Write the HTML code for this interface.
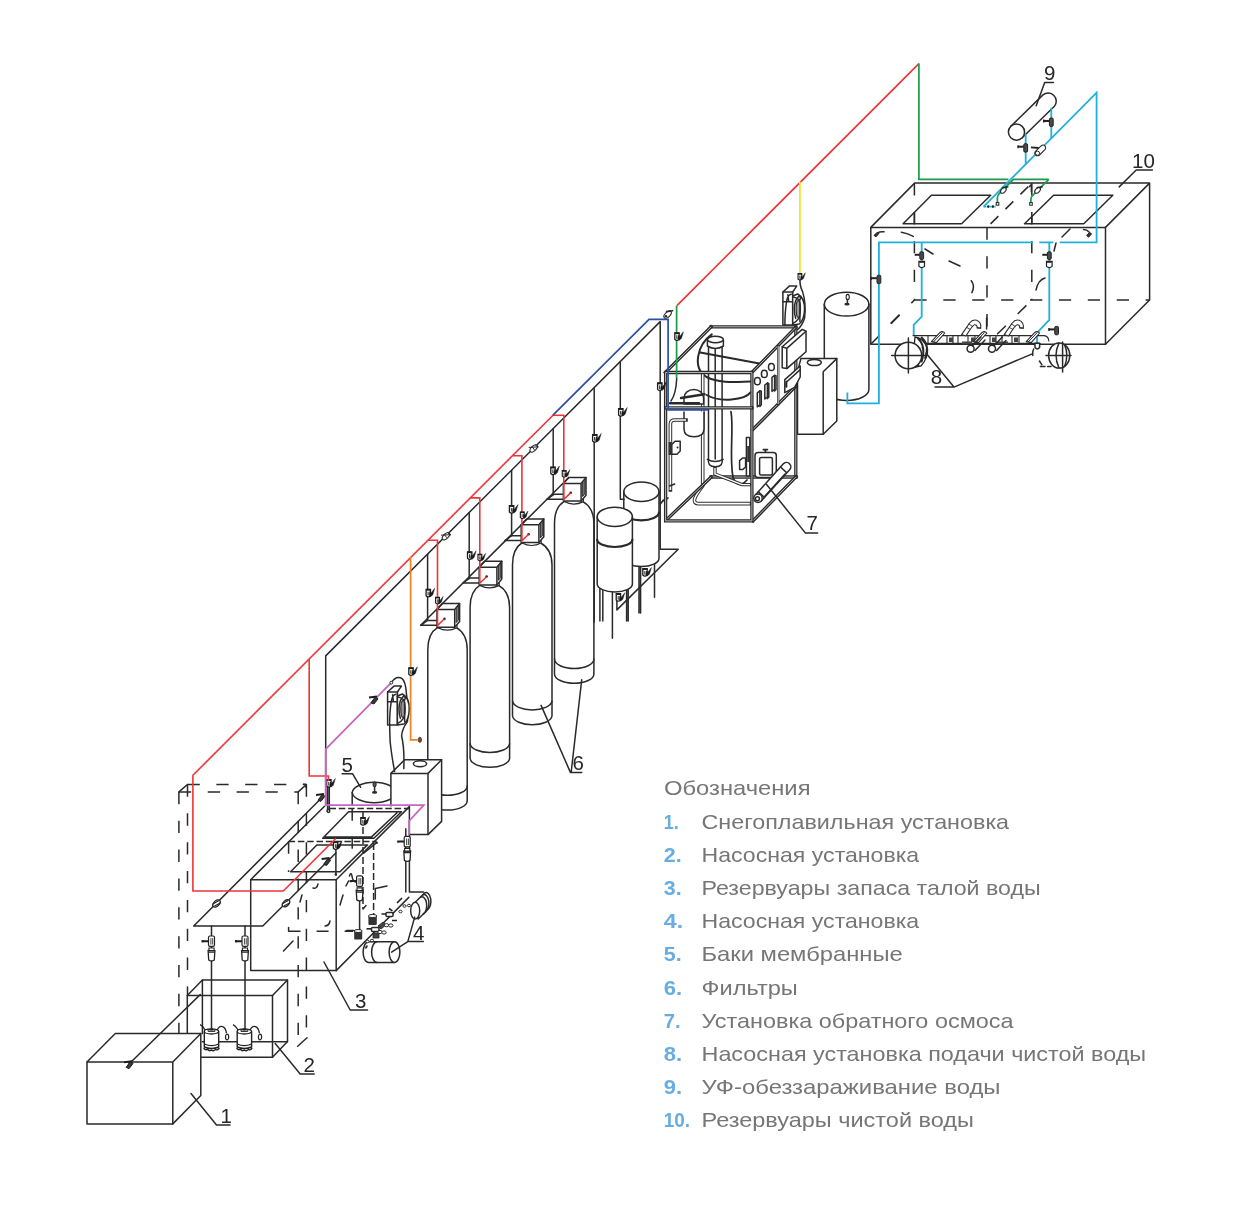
<!DOCTYPE html>
<html lang="ru">
<head>
<meta charset="utf-8">
<title>Схема водоподготовки</title>
<style>
html,body{margin:0;padding:0;background:#fff;}
body{width:1240px;height:1218px;overflow:hidden;font-family:"Liberation Sans",sans-serif;}
svg{display:block;position:absolute;left:0;top:0;will-change:transform;}
.k{fill:none;stroke:#2a2a2a;stroke-width:1.5;stroke-linecap:round;stroke-linejoin:round;}
.kf{fill:#fff;stroke:#2a2a2a;stroke-width:1.5;stroke-linejoin:round;}
.kd{fill:none;stroke:#2a2a2a;stroke-width:1.5;stroke-dasharray:9 5;}
.kb{fill:#2a2a2a;stroke:none;}
.r{fill:none;stroke:#ee3438;stroke-width:1.6;stroke-linejoin:miter;}
.b{fill:none;stroke:#2b4fa3;stroke-width:1.7;}
.g{fill:none;stroke:#1c9a48;stroke-width:1.7;}
.c{fill:none;stroke:#1fb0dc;stroke-width:1.8;}
.y{fill:none;stroke:#f1e722;stroke-width:1.8;}
.o{fill:none;stroke:#f08224;stroke-width:1.7;}
.m{fill:none;stroke:#c765c2;stroke-width:1.8;}
.lb{font-family:"Liberation Sans",sans-serif;font-size:20.5px;fill:#262626;}
.lg{font-family:"Liberation Sans",sans-serif;font-size:20.4px;fill:#767676;}
.ln{font-family:"Liberation Sans",sans-serif;font-size:20.4px;font-weight:bold;fill:#68ade0;}
</style>
</head>
<body>
<svg width="1240" height="1218" viewBox="0 0 1240 1218">
<!-- 10_defs.svg -->
<defs>
  <!-- small valve on a vertical pipe -->
  <g id="vv">
    <path d="M-2.2,-3.8 H2.2 V2.6 Q0,4.8 -2.2,2.6 Z" fill="#fff" stroke="#1e1e1e" stroke-width="1.3"/>
    <path d="M-2.2,-3.3 H2.2" stroke="#1e1e1e" stroke-width="1.7" fill="none"/>
    <path d="M-0.2,-1.4 V2.2" stroke="#333" stroke-width="1" fill="none"/>
    <path d="M0.8,2.2 L1.4,-1.4 L2.6,0.2 L6.4,-4.8 L4.4,1.8 L2.2,3.6 Z" fill="#1a1a1a" stroke="#1a1a1a" stroke-width="0.5"/>
  </g>
  <!-- valve with handle to the left + strainer cup under it -->
  <g id="vc">
    <rect x="-3" y="-5.6" width="6" height="10.4" rx="1.4" fill="#fff" stroke="#222" stroke-width="1.2"/>
    <path d="M-0.6,-3.4 V3 M1.2,-3.4 V3" fill="none" stroke="#444" stroke-width="1"/>
    <path d="M-9.4,-0.4 H-3 M-9,-1.6 V0.8" fill="none" stroke="#1e1e1e" stroke-width="2"/>
    <path d="M-3.4,9 H3.4 L2.8,18.4 Q0,20.4 -2.8,18.4 Z" fill="#fff" stroke="#222" stroke-width="1.3"/>
    <path d="M-3.2,10.6 H3.2 M-2.6,6.4 H2.6 V9 H-2.6 Z" fill="#fff" stroke="#222" stroke-width="1.1"/>
  </g>
  <!-- valve on a 45deg pipe -->
  <g id="vd">
    <ellipse cx="0" cy="0" rx="4.4" ry="2.7" transform="rotate(-45)" fill="#fff" stroke="#222" stroke-width="1.3"/>
    <path d="M-3.6,0.4 L2.2,-2.8 M-2.2,2.8 L3.6,-0.4" fill="none" stroke="#222" stroke-width="1.1"/>
  </g>
  <!-- valve on 45deg pipe with dark handle -->
  <g id="vh">
    <path d="M-3.4,2.8 L0.8,-3 L3.6,-1.2 L-0.4,4 Z" fill="#3a3a3a" stroke="#1e1e1e" stroke-width="1"/>
    <path d="M-5.4,-2.4 L2.6,-3.4" fill="none" stroke="#1e1e1e" stroke-width="2"/>
  </g>
  <!-- submersible pump -->
  <g id="sp">
    <path d="M-7.2,-1 V14.6 Q0,17.6 7.2,14.6 V-1" fill="#fff" stroke="#222" stroke-width="1.4"/>
    <ellipse cx="0" cy="-1" rx="7.2" ry="2.6" fill="#fff" stroke="#222" stroke-width="1.3"/>
    <path d="M-7.2,11.6 Q0,14.8 7.2,11.6" fill="none" stroke="#222" stroke-width="1.2"/>
    <path d="M-7.8,15.4 q1.8,3 3.8,1.4 q2,2.4 4,0.8 q2,1.8 4,-0.6 q2,1.4 3.8,-1.6" fill="none" stroke="#222" stroke-width="1.4"/>
    <path d="M-3.4,-2.6 h6.8 v1.6 h-6.8 z" fill="#fff" stroke="#222" stroke-width="1"/>
    <ellipse cx="0" cy="-3" rx="2" ry="1" fill="#222"/>
    <path d="M5.6,-1.8 q1.8,-5 5.4,-4 q3.2,1 4,6.6" fill="none" stroke="#222" stroke-width="1.3"/>
    <ellipse cx="15.6" cy="4.6" rx="1.6" ry="2.8" fill="#fff" stroke="#222" stroke-width="1.2"/>
    <path d="M-6.4,-2.4 q-1.4,-3.6 -5,-5.4" fill="none" stroke="#222" stroke-width="1.2"/>
  </g>
  <g id="dpump">
    <path class="kf" d="M387.6,692 L394,686.1 H401.4 L397.4,692 V725 H387.6 Z"/>
    <path class="k" d="M387.6,692 H397.4 M387.6,701.8 H397.4 M391.2,701.6 Q392.4,694.6 396,694.2 M389.6,725 Q389.6,712 391.2,702 M393.4,701.4 L392.6,694.8"/>
    <path class="kf" d="M397.4,696 L402.4,694 Q409.8,698 409.2,710 Q408.8,720 404,724 L397.4,725 Z"/>
    <path class="k" d="M397.4,696.8 Q402,697.6 404.6,700.4 M397.4,723.6 Q401.4,721.4 403.8,717.8 M400.8,700 L403.4,696.2 L405.6,697.6 L404,701"/>
    <ellipse cx="403" cy="709" rx="2.2" ry="8.4" fill="#999" stroke="#2a2a2a" stroke-width="1.2"/>
    <path class="k" d="M400.4,700.6 Q397.6,709 400.4,718.4 M404.6,702 V721.6"/>
  </g>
</defs>

<!-- 15_filters.svg -->
<g id="filters">
<path class="kf" d="M563.9,501.6 C557.5,505.6 554.5,513.6 554.5,523.6 V673.9 A19.7,9.4 0 0 0 593.9,673.9 V523.6 C593.9,513.6 589.9,505.6 582.9,501.6 Z"/>
<path class="k" d="M554.5,659.1 A19.7,9.4 0 0 0 593.9,659.1"/>
<path class="kf" style="stroke-width:1.2" d="M564.4,499.4 v2.2 q9,5 19,0 v-2.2 z"/>
<path class="kf" d="M521.7,543.0 C515.5,547.0 512.5,555.0 512.5,565.0 V716.0 A19.8,9.4 0 0 0 552.0,716.0 V565.0 C552.0,555.0 548.0,547.0 540.7,543.0 Z"/>
<path class="k" d="M512.5,701.2 A19.8,9.4 0 0 0 552.0,701.2"/>
<path class="kf" style="stroke-width:1.2" d="M522.2,540.8 v2.2 q9,5 19,0 v-2.2 z"/>
<path class="kf" d="M479.7,585.4 C473.1,589.4 470.1,597.4 470.1,607.4 V758.6 A19.8,9.4 0 0 0 509.6,758.6 V607.4 C509.6,597.4 505.6,589.4 498.7,585.4 Z"/>
<path class="k" d="M470.1,743.8 A19.8,9.4 0 0 0 509.6,743.8"/>
<path class="kf" style="stroke-width:1.2" d="M480.2,583.2 v2.2 q9,5 19,0 v-2.2 z"/>
<path class="kf" d="M437.5,627.7 C430.8,631.7 427.8,639.7 427.8,649.7 V800.7 A19.7,9.4 0 0 0 467.2,800.7 V649.7 C467.2,639.7 463.2,631.7 456.5,627.7 Z"/>
<path class="k" d="M427.8,785.9 A19.7,9.4 0 0 0 467.2,785.9"/>
<path class="kf" style="stroke-width:1.2" d="M438.0,625.5 v2.2 q9,5 19,0 v-2.2 z"/>
<path class="k" d="M547.1,499.2 H563.4 M547.1,499.2 L554.0,494.3 H563.4"/>
<path class="kf" d="M563.4,483.4 l5.4,-5.9 h17.2 v17.8 l-4.9,5.8 h-17.7 z"/>
<path class="k" d="M563.4,483.4 h17.7 v17.7 M581.1,483.4 l4.9,-5.9"/>
<path d="M582.6,481.9 l2.4,-2.8 v14.6 l-2.4,2.8 z" fill="#777" stroke="#222" stroke-width="0.9"/>
<circle cx="570.8" cy="492.8" r="1.3" class="kb"/>
<path class="k" d="M504.9,540.6 H521.2 M504.9,540.6 L511.8,535.7 H521.2"/>
<path class="kf" d="M521.2,524.8 l5.4,-5.9 h17.2 v17.8 l-4.9,5.8 h-17.7 z"/>
<path class="k" d="M521.2,524.8 h17.7 v17.7 M538.9,524.8 l4.9,-5.9"/>
<path d="M540.4,523.3 l2.4,-2.8 v14.6 l-2.4,2.8 z" fill="#777" stroke="#222" stroke-width="0.9"/>
<circle cx="528.6" cy="534.2" r="1.3" class="kb"/>
<path class="k" d="M462.9,583.0 H479.2 M462.9,583.0 L469.8,578.1 H479.2"/>
<path class="kf" d="M479.2,567.2 l5.4,-5.9 h17.2 v17.8 l-4.9,5.8 h-17.7 z"/>
<path class="k" d="M479.2,567.2 h17.7 v17.7 M496.9,567.2 l4.9,-5.9"/>
<path d="M498.4,565.7 l2.4,-2.8 v14.6 l-2.4,2.8 z" fill="#777" stroke="#222" stroke-width="0.9"/>
<circle cx="486.6" cy="576.6" r="1.3" class="kb"/>
<path class="k" d="M420.7,625.3 H437.0 M420.7,625.3 L427.6,620.4 H437.0"/>
<path class="kf" d="M437.0,609.5 l5.4,-5.9 h17.2 v17.8 l-4.9,5.8 h-17.7 z"/>
<path class="k" d="M437.0,609.5 h17.7 v17.7 M454.7,609.5 l4.9,-5.9"/>
<path d="M456.2,608.0 l2.4,-2.8 v14.6 l-2.4,2.8 z" fill="#777" stroke="#222" stroke-width="0.9"/>
<circle cx="444.4" cy="618.9" r="1.3" class="kb"/>
<path class="k" d="M541.1,705.4 L570.5,772.6 H581.8 M571.2,772 L581.7,679.8"/>
<text class="lb" x="572.5" y="770.0">6</text>
</g>
<!-- 20_bl.svg -->
<g id="unit1-2">
  <!-- box 2 (pump chamber) -->
  <path class="k" d="M187.3,1033.5 V995.6 H272.5 V1057.2 H200.8"/>
  <path class="k" d="M187.3,995.6 L202.4,980.1 H287.5 L272.5,995.6"/>
  <path class="k" d="M287.5,980.1 V1041.5 L272.5,1057.2"/>
  <path class="k" d="M202.4,980.1 V1033.5 M202.4,1041.7 H287.5"/>
  <!-- box 1 (snow melter) -->
  <path class="kf" d="M87,1062 L115.3,1033.5 H200.8 V1095.5 L172.8,1123.9 H87 Z"/>
  <path class="k" d="M87,1062 H172.8 V1123.9 M172.8,1062 L200.8,1033.5"/>
  <path class="k" d="M129,1064 L200.2,994.6"/>
  <use href="#vh" x="129.5" y="1064.6"/>
  <!-- pumps and risers -->
  <path class="k" d="M211.5,926.1 V1029 M245,926.1 V1029"/>
  <use href="#sp" x="211.5" y="1032.4"/>
  <use href="#sp" x="244.4" y="1032.4"/>
  <use href="#vc" x="211.5" y="941.6"/>
  <use href="#vc" x="245" y="941.6"/>
  <!-- labels -->
  <path class="k" d="M191,1093.5 L216.5,1125 H230"/>
  <text class="lb" x="220.6" y="1122.8">1</text>
  <path class="k" d="M275.2,1043.6 L300.2,1074.1 H314.2"/>
  <text class="lb" x="303.5" y="1072.3">2</text>
</g>

<!-- 21_tank5.svg -->
<g id="tank5">
  <!-- membrane tank 5 -->
  <path class="kf" d="M352.2,806 V792.5 A22,11 0 0 1 396.1,792.5 V806"/>
  <path class="k" d="M352.2,792.5 A22,11 0 0 0 396.1,792.5"/>
  <ellipse cx="374.6" cy="784.4" rx="1.6" ry="2.6" fill="#555" stroke="#222" stroke-width="1"/>
  <path d="M374.6,787 V791.5" class="k"/>
  <ellipse cx="374.6" cy="792.4" rx="2.6" ry="1.4" class="kb"/>
  <path class="k" d="M342.1,773.7 H352.5 L360.6,787.3"/>
  <text class="lb" x="341.4" y="771.8">5</text>
  <!-- dosing box -->
  <path class="kf" d="M390.9,773.4 L404.6,759.8 H441.6 V821.4 L428,834.6 H390.9 Z"/>
  <path class="k" d="M390.9,773.4 H428 V834.6 M428,773.4 L441.6,759.8"/>
  <ellipse cx="420" cy="763.8" rx="6.6" ry="3" class="k"/>
</g>

<!-- 22_tank3.svg -->
<g id="tank3">
  <!-- tank 3 body -->
  <path d="M250.7,970.6 V879.7 L324.5,806.4 H409.4 V894 L336.2,970.6 Z" fill="#fff" stroke="none"/>
  <path class="k" d="M250.7,879.7 H336.2 V970.6 H250.7 Z"/>
  <path class="k" d="M250.7,879.7 L324.5,806.2 M336.2,879.7 L409.4,806.6 M336.2,970.6 L364.5,942"/>
  <path class="kd" style="stroke-dasharray:6.5 2.8" d="M329.5,808.4 H409.4"/>
  <path class="k" d="M409.4,807 V828"/>
  <!-- hatches -->
  <path class="k" d="M322.7,838.3 H373.9 L401.5,811.7 H348.6 Z M325.6,836.9 H371.6 L397,812.8"/>
  <path class="k" d="M290.6,871.8 H340 L367.5,844.9 H316.8 Z"/>
  <!-- hidden partition dashed -->
  <path class="kd" style="stroke-dasharray:6.5 2.8" d="M288.6,841.4 H376.5"/>
  <path class="kd" style="stroke-dasharray:12.3 16.55" d="M288.6,841.4 V872"/>
  <path class="kd" style="stroke-dasharray:12 16" d="M288.6,931.2 H353"/>
  <path class="k" d="M288.6,927.6 V931.2"/>
  <path class="kd" style="stroke-dasharray:7 3" d="M363,827 V909 M373.6,843 V915"/>
  <path class="k" d="M363,909 L366,905.5"/>
  <path class="kd" style="stroke-dasharray:12 16" d="M352.2,808.8 V852"/>
  <!-- inner stubs -->
  <path class="k" d="M335.9,849 V874.5 M363,811.7 V817"/>
  <circle cx="335.9" cy="874.6" r="1.3" class="kb"/>
  <circle cx="376.6" cy="842.7" r="1.3" class="kb"/>
  <path class="k" d="M376.6,842.7 L364,853"/>
  <use href="#vv" x="363" y="821.4"/>
  <use href="#vv" x="335.6" y="845.6"/>
  <!-- small curls inside -->
  <path class="k" d="M313,888 q4,1 5,-4 M325,926 q4,0 5,-5 M283.5,951 L293,941 M300,902 l2,-7 M346,886 l2.5,-5 M340,905 l3,-10"/>
  <!-- label 3 -->
  <path class="k" d="M324,962 L350.2,1010 H367.5"/>
  <text class="lb" x="355" y="1008">3</text>
  <!-- riser manifold parallelogram (in front) -->
  <path class="k" d="M193.7,926 H262.8 M193.7,926 L321.5,798 M262.8,926 L335.9,853"/>
  <use href="#vd" x="216.5" y="903.5"/>
  <use href="#vd" x="286" y="903.3"/>
  <use href="#vh" x="327" y="861.5"/>
  <use href="#vh" x="321.4" y="797.4"/>
  <!-- riser at back-left corner -->
  <path class="k" d="M327.6,786 V810 M329.3,786 V810"/>
  <circle cx="328.4" cy="811" r="1.4" class="kf"/>
  <use href="#vv" x="328.9" y="783.4"/>
</g>
<g id="pump4">
  <!-- double riser on the right side of tank 3 -->
  <path class="k" d="M405.8,828.7 V892 M409.4,828.7 V892 H423.6"/>
  <use href="#vc" x="407.2" y="842"/>
  <path class="k" d="M364.5,942 L408.8,897.4"/>
  <path class="k" d="M359.6,889.6 V930"/>
  <use href="#vc" x="359.6" y="881.5"/>
  <path class="k" d="M349.5,876 q1.5,-5 2.5,0 q0.5,5 3.5,6"/>
  <path class="k" d="M375.3,888.6 L387,886 M375.3,888.6 V899"/>
  <!-- motor 1 (upper right) -->
  <path class="kf" d="M415.2,902.3 L424.6,893 A4.6,8.4 0 0 1 427.6,909.7 L418.2,919 Z"/>
  <ellipse cx="415.2" cy="910.7" rx="4.5" ry="8.4" class="kf"/>
  <path class="k" d="M420.4,897.3 A4.6,8.4 0 0 1 423.4,914 M422.6,895 A4.6,8.4 0 0 1 425.6,911.8"/>
  <!-- motor 2 (lower) -->
  <path class="kf" d="M394.5,941.8 H368.5 A5.4,10.3 0 0 0 368.5,962.4 H394.5"/>
  <ellipse cx="394.5" cy="952.1" rx="5.4" ry="10.3" class="kf"/>
  <path class="k" d="M377,941.8 A5.4,10.3 0 0 0 377,962.4"/>
  <ellipse cx="366.4" cy="947" rx="1" ry="2" class="kb" transform="rotate(30 366.4 947)"/>
  <!-- pump bodies (dark) -->
  <rect x="368.4" y="916" width="8.4" height="9" rx="1.2" fill="#333"/>
  <ellipse cx="372.6" cy="916" rx="4.2" ry="1.6" fill="#fff" stroke="#222" stroke-width="1"/>
  <rect x="354.2" y="931" width="8" height="8.6" rx="1.2" fill="#333"/>
  <ellipse cx="358.2" cy="931" rx="4" ry="1.5" fill="#fff" stroke="#222" stroke-width="1"/>
  <path class="k" d="M346.5,930.6 H354"/>
  <rect x="386" y="912.6" width="7" height="4" rx="1" class="kf"/>
  <path d="M381.5,914 H386 M389,908.5 L392.5,910.8" stroke="#222" stroke-width="1.6" fill="none"/>
  <rect x="371.5" y="927.5" width="7.5" height="4" rx="1" class="kf"/>
  <path d="M366.5,928.8 H371" stroke="#222" stroke-width="1.6" fill="none"/>
  <path d="M373,933 h6 v5 h-6 z M378,926 l5,-4 l3,3 l-5,4 z" fill="#444" stroke="#222" stroke-width="0.8"/>
  <g class="kf" style="stroke-width:1">
    <ellipse cx="386.5" cy="925.2" rx="2.2" ry="1.6"/><ellipse cx="390.8" cy="925.5" rx="2.2" ry="1.6"/>
    <ellipse cx="380" cy="932" rx="2.2" ry="1.6"/><ellipse cx="384" cy="932.5" rx="2.2" ry="1.6"/>
    <ellipse cx="372" cy="940.5" rx="1.6" ry="1.3"/><ellipse cx="367.5" cy="941.5" rx="1.6" ry="1.3"/>
    <ellipse cx="400.5" cy="911.5" rx="1.6" ry="1.3"/><ellipse cx="404.5" cy="906" rx="1.6" ry="1.3"/><ellipse cx="409" cy="905.5" rx="1.6" ry="1.3"/>
  </g>
  <path d="M392,920.5 h5 M397,903 l5,-5" stroke="#222" stroke-width="1.6" fill="none"/>
  <!-- label 4 -->
  <path class="k" d="M414.7,917.1 L407.8,941.6 H423.3 M407.8,941.6 L391.6,952.1"/>
  <text class="lb" x="413.0" y="939.8">4</text>
</g>

<!-- 23_dosepump1.svg -->
<g id="dosepump1">
<path class="k" d="M391.5,682.4 Q396,675.6 401.6,678.2 Q405.6,681 406.4,693.6 Q408.8,708 407.4,721.6 Q402,729 401.6,736 Q404.6,748 403.8,768.6"/>
<use href="#dpump"/>
<path class="k" d="M389.8,725 Q389.4,740 391.4,752 Q392.8,762 394.6,771.4"/>
</g>
<!-- 30_dashbox.svg -->
<g id="dashbox">
  <path class="kd" style="stroke-dasharray:12.3 16.55" d="M178.9,791.9 H298.2 M187.5,784.5 H306.4"/>
  <path class="kd" style="stroke-dasharray:12.3 16.55" d="M178.9,791.9 V1033 M187.5,784.5 V995 M298.2,791.9 V1046 M306.4,784.5 V1040"/>
  <path class="k" d="M178.9,791.9 L187.5,784.5 M298.2,791.9 L306.4,784.5 M303.4,784.3 l3,0.2 l-0.6,2.6 M307,1037.8 L297.7,1046.2"/>
</g>

<!-- 40_ro.svg -->
<g id="brine">
<path class="k" d="M660.5,549.3 H678.2 L616.9,609.9 V594"/>
<path class="k" d="M654.5,564 V597.3 M639,567 V613 M640.6,567 V613"/>
<path class="kf" d="M623.8,491.7 A17.6,9.7 0 0 1 659,491.7 V558.2 A17.6,8.4 0 0 1 623.8,558.2 Z"/>
<path class="k" d="M623.8,491.7 A17.6,9.7 0 0 0 659,491.7"/>
<path class="k" d="M623.8,512.3 A17.6,8 0 0 0 659,512.3" style="stroke-width:2.2"/>
<use href="#vv" x="645" y="572.4"/>
<path class="k" d="M599.9,588 V621 M602.8,588 V621 M612.4,590 V638.3 M628.2,588 V621 M626.6,588 V621"/>
<path class="kf" d="M597.2,516.8 A17.6,9.6 0 0 1 632.4,516.8 V584 A17.6,8 0 0 1 597.2,584 Z"/>
<path class="k" d="M597.2,516.8 A17.6,9.6 0 0 0 632.4,516.8"/>
<path class="k" d="M597.2,539.6 A17.6,7.4 0 0 0 632.4,539.6" style="stroke-width:2.2"/>
<use href="#vv" x="618.4" y="597.5"/>
</g>
<g id="ro">
<path class="kf" d="M824.3,304.2 A22.3,11.9 0 0 1 868.9,304.2 V389.5 A22.3,11 0 0 1 824.3,389.5 Z"/>
<path class="k" d="M824.3,304.2 A22.3,11.9 0 0 0 868.9,304.2"/>
<ellipse cx="847.7" cy="297" rx="1.6" ry="2.6" fill="#fff" stroke="#222" stroke-width="1.1"/>
<path class="k" d="M847.4,299.6 V303.5"/>
<ellipse cx="847" cy="304.2" rx="2.6" ry="1.4" class="kb"/>
<path class="kf" d="M797.5,371.6 L800.9,358.6 H836.8 V421 L823.2,434.2 H797.5 Z"/>
<path class="k" d="M823.2,371.8 V434.2 M823.2,371.8 L836.8,358.6"/>
<ellipse cx="814.3" cy="362.5" rx="7" ry="3.1" class="k"/>
<path class="k" d="M800,279 Q799.6,286 802.6,291.6 Q806.4,304 804.6,318 Q802,326 797.6,329.6"/>
<use href="#dpump" transform="translate(395.3,-400)"/>
<path d="M711.1,326.8 H795.6" fill="none" stroke="#2a2a2a" stroke-width="3.3" stroke-linecap="square"/>
<path d="M711.1,326.8 H795.6" fill="none" stroke="#c8c8c8" stroke-width="0.9" stroke-linecap="butt"/>
<path d="M795.8,327 V476.6" fill="none" stroke="#2a2a2a" stroke-width="3.3" stroke-linecap="square"/>
<path d="M795.8,327 V476.6" fill="none" stroke="#c8c8c8" stroke-width="0.9" stroke-linecap="butt"/>
<path d="M711.1,477 H796" fill="none" stroke="#2a2a2a" stroke-width="3.3" stroke-linecap="square"/>
<path d="M711.1,477 H796" fill="none" stroke="#c8c8c8" stroke-width="0.9" stroke-linecap="butt"/>
<path class="kf" d="M708.5,340 V459 Q707,466.5 715.4,466.8 Q723.6,466.5 722.1,459 V340 Z"/>
<path class="k" d="M715.2,348 V459"/>
<path class="kf" d="M707.4,339.5 V346 Q715.4,351 723.4,346 V339.5"/>
<ellipse cx="715.4" cy="339.5" rx="8" ry="3.2" class="kf"/>
<path class="k" d="M707.3,459.4 Q715,463.6 723.2,459.4"/>
<path class="k" d="M711.8,334.4 C697,345 692,368 706.6,377 C720,384 740,381.5 750.5,381.5" style="stroke-width:2"/>
<path class="k" d="M700.2,352.4 L759.5,363.4" style="stroke-width:2"/>
<path class="k" d="M706.6,395 C720,402.7 745,400 750.5,392.4" style="stroke-width:2"/>
<path class="k" d="M731,411.6 C734,430 729,455 733,477.4 Q738,490 747,480" style="stroke-width:1.7"/>
<path d="M702.7,374 V486 Q696.4,494 694.6,499 Q693.6,503.4 698,503.6 H749.8" fill="none" stroke="#2e2e2e" stroke-width="3.6" stroke-linecap="square"/>
<path d="M702.7,374 V486 Q696.4,494 694.6,499 Q693.6,503.4 698,503.6 H749.8" fill="none" stroke="#fff" stroke-width="1.6" stroke-linecap="butt"/>
<path class="kf" d="M684,411.6 V429 Q684,436.8 694,436.8 Q704,436.8 704,429 V411.6"/>
<path class="kf" d="M684,398 A9.8,8.6 0 0 1 703.6,398 V404 H684 Z"/>
<path class="k" d="M670,403.2 H699 M681,398 L704.5,394.2" style="stroke-width:2.4"/>
<path class="k" d="M676.7,378.5 Q676,394 671,401"/>
<path d="M670.4,490 V424 Q670.4,420 675,420 H686" fill="none" stroke="#2e2e2e" stroke-width="3.6" stroke-linecap="square"/>
<path d="M670.4,490 V424 Q670.4,420 675,420 H686" fill="none" stroke="#fff" stroke-width="1.6" stroke-linecap="butt"/>
<path class="kf" d="M671.8,444.4 L675,441.3 H680.2 V451 L677,454.2 H671.8 Z"/>
<path d="M668.6,442 h3 v13 h-3 z" fill="#333"/>
<circle cx="677.6" cy="447.6" r="1" class="kb"/>
<path class="k" d="M669.6,486 l5,-2 M668,498 l-5,3 M663.4,500 L660.4,504" style="stroke-width:1.6"/>
<path d="M715,468 V474 L742,484.6 H750" fill="none" stroke="#2e2e2e" stroke-width="3.4" stroke-linecap="square"/>
<path d="M715,468 V474 L742,484.6 H750" fill="none" stroke="#fff" stroke-width="1.4" stroke-linecap="butt"/>
<path class="kf" d="M746.4,437.5 h3.4 v38.5 h-3.4 z"/>
<path d="M747.2,446 h2 v16 h-2 z" fill="#333"/>
<path class="kf" d="M739.6,460.6 l3,-2.6 h3 v9 l-3,2.6 h-3 z"/>
<rect x="755" y="452.4" width="21.3" height="25" rx="3" class="kf"/>
<rect x="759.6" y="457.4" width="12.8" height="17.6" rx="1.5" class="k"/>
<path class="k" d="M765.4,452 V449.6 M763.4,449.6 H767.4" style="stroke-width:1.8"/>
<path class="kf" d="M755.2,495.2 L783.6,463.6 A4.3,4.3 0 0 1 789.4,470 L761,501.2 Z" style="stroke-width:1.5"/>
<path class="k" d="M758.4,491.8 l6,5.6 M780.6,467 l6,5.6 M765,496 L785,474"/>
<circle cx="758" cy="498.2" r="4.2" class="kf" style="stroke-width:1.5"/>
<circle cx="757.4" cy="498.8" r="2" class="k"/>
<path d="M665.4,372.5 L711.1,326.8" fill="none" stroke="#2a2a2a" stroke-width="3.3" stroke-linecap="square"/>
<path d="M665.4,372.5 L711.1,326.8" fill="none" stroke="#c8c8c8" stroke-width="0.9" stroke-linecap="butt"/>
<path d="M751.9,372.5 L795.6,327.6" fill="none" stroke="#2a2a2a" stroke-width="3.3" stroke-linecap="square"/>
<path d="M751.9,372.5 L795.6,327.6" fill="none" stroke="#c8c8c8" stroke-width="0.9" stroke-linecap="butt"/>
<path d="M753,520.8 L796,476.8" fill="none" stroke="#2a2a2a" stroke-width="3.3" stroke-linecap="square"/>
<path d="M753,520.8 L796,476.8" fill="none" stroke="#c8c8c8" stroke-width="0.9" stroke-linecap="butt"/>
<path d="M666.6,519.6 L711.1,477.2" fill="none" stroke="#2a2a2a" stroke-width="3.3" stroke-linecap="square"/>
<path d="M666.6,519.6 L711.1,477.2" fill="none" stroke="#c8c8c8" stroke-width="0.9" stroke-linecap="butt"/>
<path d="M752.4,430 L796,386" fill="none" stroke="#2a2a2a" stroke-width="3.3" stroke-linecap="square"/>
<path d="M752.4,430 L796,386" fill="none" stroke="#c8c8c8" stroke-width="0.9" stroke-linecap="butt"/>
<path d="M665.6,372.5 H751.9 V520.9 H665.6 Z" fill="none" stroke="#2a2a2a" stroke-width="3.3" stroke-linecap="square"/>
<path d="M665.6,372.5 H751.9 V520.9 H665.6 Z" fill="none" stroke="#c8c8c8" stroke-width="0.9" stroke-linecap="butt"/>
<path d="M665.6,407.8 H751.9" fill="none" stroke="#2a2a2a" stroke-width="3.3" stroke-linecap="square"/>
<path d="M665.6,407.8 H751.9" fill="none" stroke="#c8c8c8" stroke-width="0.9" stroke-linecap="butt"/>
<path d="M778.2,346 V404" fill="none" stroke="#2e2e2e" stroke-width="2.4" stroke-linecap="square"/>
<path d="M778.2,346 V404" fill="none" stroke="#fff" stroke-width="0.8" stroke-linecap="butt"/>
<ellipse cx="757.4" cy="381.2" rx="2.9" ry="3.6" class="kf"/>
<ellipse cx="764.3" cy="373.9" rx="2.9" ry="3.6" class="kf"/>
<ellipse cx="771.4" cy="367" rx="2.9" ry="3.6" class="kf"/>
<path class="kf" d="M757.3000000000001,392.79999999999995 l2.6,-2 v14 l-2.6,2 z"/>
<path class="k" d="M759.9000000000001,390.79999999999995 l1.4,0.4 v13.6 l-1.4,1.6"/>
<path class="kf" d="M764.8000000000001,385.0 l2.6,-2 v14 l-2.6,2 z"/>
<path class="k" d="M767.4000000000001,383.0 l1.4,0.4 v13.6 l-1.4,1.6"/>
<path class="kf" d="M772.0,377.4 l2.6,-2 v14 l-2.6,2 z"/>
<path class="k" d="M774.6,375.4 l1.4,0.4 v13.6 l-1.4,1.6"/>
<path class="kf" d="M782.2,346.8 L802.2,329.4 L806,331.2 V351.8 L786.8,368.6 L782.2,367.8 Z"/>
<path class="k" d="M782.2,346.8 L786.8,348.4 L806,331.2 M786.8,348.4 V368.6"/>
<path class="kf" d="M784.8,379.6 L800.2,366 V377 L794.6,387.4 L784.8,392.6 Z"/>
<path class="k" d="M786.6,382 L800.2,369.6 M786.6,382 V387"/>
<path d="M785.4,381.6 l1.6,-1 v6 l-1.6,1 z" fill="#222"/>
<path class="k" d="M766.6,484.5 L805.3,532.9 H817.6"/>
<text class="lb" x="806.4" y="529.8">7</text>
</g>
<!-- 50_pipes.svg -->
<g id="rails">
<path class="k" d="M325.7,805 V655.9 L660.2,321.6 M660.2,322 V549.3"/>
<path class="k" d="M427.6,554.4 V620.4"/>
<path class="k" d="M469.2,512.8 V578.1"/>
<path class="k" d="M511.6,470.4 V535.7"/>
<path class="k" d="M553.2,428.8 V494.3"/>
<path class="k" d="M594.2,388.4 V622 M620.3,362 V499.2 H624"/>
<path class="k" d="M420.7,625.3 L568.8,477.5"/>
<g transform="translate(446,536.2)"><ellipse rx="4.6" ry="2.4" transform="rotate(-45)" class="kf" style="stroke-width:1.1"/><path class="k" d="M-4.6,-1 L4.6,-1.6 M-1.4,-1.4 L0.6,1.2 M1.6,-3.6 l2.6,2.4" style="stroke-width:1"/></g>
<g transform="translate(533.7,448.4)"><ellipse rx="4.6" ry="2.4" transform="rotate(-45)" class="kf" style="stroke-width:1.1"/><path class="k" d="M-4.6,-1 L4.6,-1.6 M-1.4,-1.4 L0.6,1.2 M1.6,-3.6 l2.6,2.4" style="stroke-width:1"/></g>
<g transform="translate(667.6,314.6)"><ellipse rx="4.6" ry="2.4" transform="rotate(-45)" class="kf" style="stroke-width:1.1"/><path class="k" d="M-1,-3 L5,-3.8" style="stroke-width:1.6"/><circle cx="-1.6" cy="1.6" r="1.2" class="kb"/></g>
<use href="#vv" x="428.3" y="593.1"/>
<use href="#vv" x="469.7" y="555.7"/>
<use href="#vv" x="511.6" y="509.4"/>
<use href="#vv" x="553" y="470.9"/>
<use href="#vv" x="594.8" y="438.4"/>
<use href="#vv" x="620.8" y="412.4"/>
<use href="#vv" x="659.8" y="386.8"/>
</g>
<g id="pipes">
<path class="r" d="M336,838.2 L283.3,891 H192.9 V775.3 L553,415.2 H563.8 V499.4 L570.6,492.9"/>
<path class="r" d="M309.2,659 V776 H328.4 V781"/>
<path class="r" d="M428.3,540.3 H437.5 V625.6 L444.2,619"/>
<path class="r" d="M469.8,497.9 H479.8 V583.2 L486.5,576.7"/>
<path class="r" d="M513,455.8 H521.9 V540.8 L528.6,534.3"/>
<path class="r" d="M676.9,305.6 L918.9,63.6"/>
<path class="b" d="M553,415.2 L649,319.4 H668.1 V409.8 H708.5"/>
<path class="g" d="M676.6,305.6 V378"/>
<path class="o" d="M410.6,557 V739.8 H417.6"/>
<ellipse cx="419.9" cy="739.8" rx="1.6" ry="2.6" fill="#8a4a22" stroke="#3a2a22" stroke-width="0.8"/>
<use href="#vv" x="411" y="671.6"/>
<path class="m" d="M391.3,682.7 L325.7,749.1 V805.2 H423.8 L409.1,821 V834.8"/>
<circle cx="391.3" cy="682.7" r="1.4" class="kf" style="stroke-width:1"/>
<use href="#vh" x="374.4" y="700"/>
<g transform="translate(437.5,600.6) scale(0.88)"><use href="#vv"/></g>
<g transform="translate(479.9,557.6) scale(0.88)"><use href="#vv"/></g>
<g transform="translate(522.3,515.3) scale(0.88)"><use href="#vv"/></g>
<g transform="translate(564.2,473.9) scale(0.88)"><use href="#vv"/></g>
<use href="#vv" x="677" y="336.6"/>
</g>
<!-- 60_clean.svg -->
<defs>
<g id="vl"><rect x="-1.9" y="-4.2" width="3.8" height="8.4" rx="1.2" fill="#4a4a4a" stroke="#222" stroke-width="1"/><path d="M-8,-1.2 H-2" stroke="#222" stroke-width="2" fill="none"/><path d="M-7.6,-2.6 V0.4" stroke="#222" stroke-width="1.4" fill="none"/></g>
<g id="vlc"><rect x="-1.9" y="-4.6" width="3.8" height="7.6" rx="1.2" fill="#4a4a4a" stroke="#222" stroke-width="1"/><path d="M-7,-1.6 H-2" stroke="#222" stroke-width="2" fill="none"/><path d="M-2.8,5 H2.8 V10 Q0,12.6 -2.8,10 Z" fill="#fff" stroke="#222" stroke-width="1.2"/><path d="M-2.4,5.6 H2.4" stroke="#222" stroke-width="1.6"/></g>
</defs>
<g id="tank10">
<path class="kd" style="stroke-dasharray:12.3 16.6" d="M914.4,183.1 V300 M914.4,300 H1149.6 M987,227.4 V344.3 M1031.8,183.1 V300 M870.8,344.3 L914.4,300"/>
<path class="kd" style="stroke-dasharray:12.3 16.6;stroke-dashoffset:14.7" d="M987,344.3 L1031.8,300"/>
<path class="kd" style="stroke-dasharray:11 10;stroke-dashoffset:16" d="M987,227.4 L1031.8,183.1"/>
<path class="k" d="M870.8,227.4 H1105.5 V344.3 H870.8 Z"/>
<path class="k" d="M870.8,227.4 L914.6,183.1 H1149.6 L1105.5,227.4 M1149.6,183.1 V300 L1105.5,344.3"/>
<path class="k" d="M903.1,223.8 H961.6 L990.7,195.2 H931.4 Z M1024.5,223.8 H1083.8 L1112.8,195.2 H1053.6 Z"/>
<path class="k" d="M914.4,212.6 V223.8 M1031.8,216.5 V223.8"/>
<path class="k" d="M901.4,232.2 Q908,233.4 913.3,236.4 M925,249 l8,5 M949,261 l11,5 M1062,237 l8,-8 M1054,251 l2,-8 M891,323 l8,-8"/>
<path class="k" d="M971.3,280.7 q4,5 0.6,12 M1045,278 q-7,2 -9,12"/>
<path d="M874,235.4 l3,-3 l2,1 l-3,3.4 z M1086.6,235.4 l3,-3 l2,1.4 l-3,3.4 z" fill="#333" stroke="#222" stroke-width="1"/>
<path class="k" d="M877.5,232.8 q3,-1.6 6.5,-1 M1089,232 q-2,-2.5 -5.5,-2.5"/>
<path class="k" d="M1119.2,186.9 L1136.2,170 H1152.4"/>
<text class="lb" x="1132.0" y="168.2">10</text>
</g>
<g id="uv9">
<path class="kf" d="M1010.8,126.4 L1043,94.9 A8.1,8.1 0 0 1 1054.4,106.3 L1022.2,137.8 Z"/>
<circle cx="1016.5" cy="132.1" r="8.1" class="kf"/>
<path class="k" d="M1036.2,105.8 L1044.7,82.6 H1053.4"/>
<text class="lb" x="1043.9" y="79.6">9</text>
</g>
<g id="cleanpipes">
<path class="g" d="M918.9,63.6 V179.3 H1008.4"/>
<path class="g" d="M1048.8,179.4 H1013.4 L999,193.8 Q997.4,195.4 997.4,198 V203.6 M1048.8,179.4 L1033,195 Q1030.9,196.6 1030.9,199 V203.6"/>
<rect x="996.2" y="202.6" width="2.6" height="2.6" fill="#fff" stroke="#222" stroke-width="1"/>
<rect x="1029.7" y="202.6" width="2.6" height="2.6" fill="#fff" stroke="#222" stroke-width="1"/>
<path class="c" d="M983.6,206.6 L1096.6,92.7 V242.4 H1059.8 M1053.4,242.4 H1039.2 M1033,242.4 H878.9 V403.3 H847.4 V392.4"/>
<path class="c" d="M983.6,206.6 H986.4 M990,206.6 H991.4 M994.4,206.6 H995.6"/>
<circle cx="988.3" cy="206.6" r="1.3" fill="#222"/><circle cx="992.9" cy="206.6" r="1.3" fill="#222"/>
<path class="c" d="M921.7,242.4 V316.7 L913.7,324.8 V335.5 M1049.3,242.4 V319.8 L1037,332.8 V347"/>
<path class="c" d="M1025.7,134 V164 M1051.3,107.8 V138.4"/>
<use href="#vl" x="1025.7" y="147.9"/><use href="#vl" x="1051.3" y="122.2"/>
<use href="#vl" x="878.9" y="279.4"/><use href="#vl" x="1056.6" y="330.6"/>
<use href="#vlc" x="921.7" y="256.4"/><use href="#vlc" x="1049.3" y="256.4"/>
<g transform="translate(1040.3,149.4)"><path d="M-4.6,1.8 L0.8,-3.6 A2.6,2.6 0 0 1 4.6,0.2 L-0.8,5.6 A2.6,2.6 0 0 1 -4.6,1.8 Z" class="kf" style="stroke-width:1.1"/><circle cx="-2.8" cy="3.8" r="2.1" class="kf" style="stroke-width:1"/><path d="M-9.4,-2 L-1.6,-1.4" stroke="#222" stroke-width="1.8" fill="none"/></g>
<g transform="translate(1003.4,190.4)"><ellipse rx="3.4" ry="2.1" transform="rotate(-45)" class="kf" style="stroke-width:1.1"/><path d="M-1,-2.6 L5,-3.6" stroke="#222" stroke-width="1.6" fill="none"/></g>
<g transform="translate(1037.6,190.4)"><ellipse rx="3.4" ry="2.1" transform="rotate(-45)" class="kf" style="stroke-width:1.1"/><path d="M-1,-2.6 L5,-3.6" stroke="#222" stroke-width="1.6" fill="none"/></g>
<path class="k" d="M1029.4,186.6 L1031.4,184.4 V192"/>
<path class="y" d="M799.9,181.8 V274"/>
<g transform="translate(799.9,276.8) scale(0.85)"><use href="#vv"/></g>
</g>
<g id="pumps8">
<path class="k" d="M913,335.6 H1044 Q1048.6,336 1048.8,341 M921,343.4 H1040 M928,336 V343.4 M947,336 V343.4 M953,336 V343.4 M958,336 V343.4 M968,336 V343.4 M975,336 V343.4 M990,336 V343.4 M996,336 V343.4 M1002,336 V343.4 M1012,336 V343.4 M1019,336 V343.4 M1031,336 V343.4" style="stroke-width:1.1"/>
<path d="M949,337.4 h4 v4.6 h-4 z M971,337.4 h4 v4.6 h-4 z M992,337.4 h4 v4.6 h-4 z M1014,337.4 h4 v4.6 h-4 z M962,341.6 h10 v2.4 h-10 z M996,341.6 h12 v2.4 h-12 z" fill="#444"/>
<path class="kf" d="M931.4,341.6 L939.8,332.6 Q942.4,330.4 944.8,333 L936.4,342.6 Z" style="stroke-width:1.1"/>
<path class="k" d="M933.6,341.8 L942.1999999999999,332.8" style="stroke-width:1"/>
<path class="kf" d="M973.5,341.6 L981.9,332.6 Q984.5,330.4 986.9,333 L978.5,342.6 Z" style="stroke-width:1.1"/>
<path class="k" d="M975.7,341.8 L984.3,332.8" style="stroke-width:1"/>
<path class="kf" d="M1026.2,341.6 L1034.6000000000001,332.6 Q1037.2,330.4 1039.6000000000001,333 L1031.2,342.6 Z" style="stroke-width:1.1"/>
<path class="k" d="M1028.4,341.8 L1037.0,332.8" style="stroke-width:1"/>
<path class="kf" d="M961.6,334.6 L969.6,323 Q973.6,318 978.6,321.4 Q981.6,324 980.6,328 L977.2,327.6 Q977.0,324.6 974.6,324.8 Q972.6,325 966.0,336 Z" style="stroke-width:1.1"/>
<path class="k" d="M966.6,327.4 l3.6,2 M969.0,324 l3.4,2.4 M977.0,328 l3.8,0.4" style="stroke-width:0.9"/>
<path class="kf" d="M1004.2,334.6 L1012.2,323 Q1016.2,318 1021.2,321.4 Q1024.2,324 1023.2,328 L1019.8000000000001,327.6 Q1019.6,324.6 1017.2,324.8 Q1015.2,325 1008.6,336 Z" style="stroke-width:1.1"/>
<path class="k" d="M1009.2,327.4 l3.6,2 M1011.6,324 l3.4,2.4 M1019.6,328 l3.8,0.4" style="stroke-width:0.9"/>
<circle cx="970.6" cy="348.8" r="3.5" class="kf"/><circle cx="992" cy="348.8" r="3.5" class="kf"/>
<path class="k" d="M972.6,345.8 L981,337 M975,350.4 L985,340 M994,345.8 L1002.4,337 M996.6,350.4 L1006,340.6 M986.6,318 V329"/>
<path d="M915,337 Q925,338.5 927.6,349.4 Q928,358 921,366 L912,368 Z" fill="#fff" stroke="#222" stroke-width="1.3"/>
<path class="k" d="M918,338.4 Q926.4,346 921.6,361.6 M921.6,337.6 Q930,345 925.2,358" style="stroke-width:2"/>
<circle cx="908.4" cy="355.5" r="13.3" class="kf"/>
<path class="k" d="M891.6,355.5 H924.6 M908.4,338 V373"/>
<circle cx="918.4" cy="365.4" r="0.9" class="kb"/><circle cx="922.4" cy="347.6" r="0.9" class="kb"/>
<ellipse cx="1059.2" cy="355.5" rx="10.6" ry="12.6" class="kf"/>
<path class="k" d="M1046,355.5 H1071 M1062.6,342 V372 M1059,343.2 Q1053,355 1059,368 M1064.6,344.6 Q1069,355 1064.6,366.4"/>
<path class="k" d="M1033.6,349 q-1.4,3 -0.8,6.4 M1039.4,361 l2.4,3.6 M1040.4,366.6 H1045 M1047.6,366.6 H1051"/>
<path class="kf" d="M1035,347.6 q2.4,2.6 4.6,0 v-4.4 h-4.6 z"/>
<path class="k" d="M926.1,353.2 L954,387.1 L1031.7,354.1 M954,387.1 H935.1"/>
<text class="lb" x="930.7" y="384.4">8</text>
</g>
<!-- 80_legend.svg -->
<g id="legend">
<text class="lg" x="664" y="794.6" textLength="146.5" lengthAdjust="spacingAndGlyphs">Обозначения</text>
<text class="ln" x="663.8" y="828.6" textLength="15" lengthAdjust="spacingAndGlyphs">1.</text><text class="lg" x="701.5" y="828.6" textLength="307.6" lengthAdjust="spacingAndGlyphs">Снегоплавильная установка</text>
<text class="ln" x="663.8" y="861.8" textLength="17.9" lengthAdjust="spacingAndGlyphs">2.</text><text class="lg" x="701.5" y="861.8" textLength="217.7" lengthAdjust="spacingAndGlyphs">Насосная установка</text>
<text class="ln" x="663.8" y="895.0" textLength="17.9" lengthAdjust="spacingAndGlyphs">3.</text><text class="lg" x="701.5" y="895.0" textLength="339.2" lengthAdjust="spacingAndGlyphs">Резервуары запаса талой воды</text>
<text class="ln" x="663.8" y="928.2" textLength="19.4" lengthAdjust="spacingAndGlyphs">4.</text><text class="lg" x="701.5" y="928.2" textLength="217.7" lengthAdjust="spacingAndGlyphs">Насосная установка</text>
<text class="ln" x="663.8" y="961.4" textLength="17.9" lengthAdjust="spacingAndGlyphs">5.</text><text class="lg" x="701.5" y="961.4" textLength="201.2" lengthAdjust="spacingAndGlyphs">Баки мембранные</text>
<text class="ln" x="663.8" y="994.6" textLength="18.4" lengthAdjust="spacingAndGlyphs">6.</text><text class="lg" x="701.5" y="994.6" textLength="96.3" lengthAdjust="spacingAndGlyphs">Фильтры</text>
<text class="ln" x="663.8" y="1027.8" textLength="16.9" lengthAdjust="spacingAndGlyphs">7.</text><text class="lg" x="701.5" y="1027.8" textLength="312.0" lengthAdjust="spacingAndGlyphs">Установка обратного осмоса</text>
<text class="ln" x="663.8" y="1061.0" textLength="18.4" lengthAdjust="spacingAndGlyphs">8.</text><text class="lg" x="701.5" y="1061.0" textLength="444.6" lengthAdjust="spacingAndGlyphs">Насосная установка подачи чистой воды</text>
<text class="ln" x="663.8" y="1094.2" textLength="18.4" lengthAdjust="spacingAndGlyphs">9.</text><text class="lg" x="701.5" y="1094.2" textLength="299.0" lengthAdjust="spacingAndGlyphs">УФ-обеззараживание воды</text>
<text class="ln" x="663.8" y="1127.4" textLength="26.3" lengthAdjust="spacingAndGlyphs">10.</text><text class="lg" x="701.5" y="1127.4" textLength="272.4" lengthAdjust="spacingAndGlyphs">Резервуары чистой воды</text>
</g>
</svg>
</body>
</html>
